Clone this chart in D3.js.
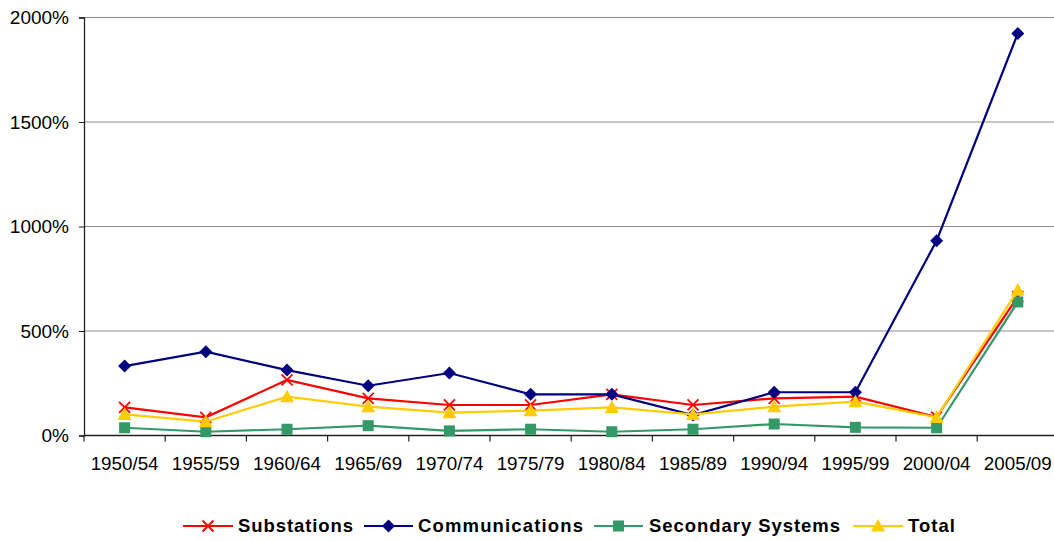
<!DOCTYPE html>
<html>
<head>
<meta charset="utf-8">
<script src="https://cdn.jsdelivr.net/npm/d3@7"></script>
<style>
  html, body { margin: 0; padding: 0; background: #fff; }
  svg { display: block; font-family: "Liberation Sans", Arial, sans-serif; }
</style>
</head>
<body>
<svg id="chart" width="1054" height="541"></svg>
<script>
// Five-year periods along the x axis
const categories = ["1950/54", "1955/59", "1960/64", "1965/69", "1970/74", "1975/79",
                    "1980/84", "1985/89", "1990/94", "1995/99", "2000/04", "2005/09"];

// Percentage values per series
const substations    = [135, 87, 266, 178, 146, 146, 197, 146, 178, 186, 88, 664];
const communications = [332, 401, 313, 238, 299, 197, 197, 98, 207, 207, 932, 1924];
const secondary      = [37, 18, 30, 47, 22, 30, 18, 30, 55, 39, 37, 639];
const total          = [101, 66, 186, 138, 109, 119, 135, 101, 138, 162, 87, 696];

const yTicks = [0, 500, 1000, 1500, 2000];

const series = [
  { name: "Substations",       values: substations,    color: "#FF0000", marker: "x" },
  { name: "Communications",    values: communications, color: "#000080", marker: "diamond" },
  { name: "Secondary Systems", values: secondary,      color: "#339966", marker: "square" },
  { name: "Total",             values: total,          color: "#FFCC00", marker: "triangle" }
];

const svg = d3.select("#chart");
const plotLeft = 84, plotRight = 1058.4, plotTop = 17.5, plotBottom = 435.5;

const x = d3.scaleBand().domain(categories).range([plotLeft, plotRight]).padding(0);
const y = d3.scaleLinear().domain([0, 2000]).range([plotBottom, plotTop]);
const cx = c => x(c) + x.bandwidth() / 2;

// Horizontal gridlines
svg.append("g")
  .selectAll("line")
  .data(yTicks.filter(t => t > 0))
  .join("line")
  .attr("x1", plotLeft).attr("x2", 1054)
  .attr("y1", d => y(d)).attr("y2", d => y(d))
  .attr("stroke", "#8c8c8c").attr("stroke-width", 1.2);

// Y axis
const yAxis = svg.append("g")
  .attr("transform", `translate(${plotLeft},0)`)
  .call(d3.axisLeft(y).tickValues(yTicks).tickSize(5).tickPadding(10).tickFormat(d => d + "%"));
yAxis.select(".domain").attr("stroke", "#222").attr("stroke-width", 1.3);
yAxis.selectAll(".tick line").attr("stroke", "#222");
yAxis.selectAll("text").attr("font-size", "19px").attr("fill", "#000")
  .attr("font-family", "'Liberation Sans', Arial, sans-serif");

// X axis: labels centred in each band, ticks on band boundaries
const xAxis = svg.append("g")
  .attr("transform", `translate(0,${plotBottom})`)
  .call(d3.axisBottom(x).tickSize(0).tickPadding(21));
xAxis.select(".domain").remove();
xAxis.selectAll("text").attr("font-size", "18.8px").attr("fill", "#000")
  .attr("font-family", "'Liberation Sans', Arial, sans-serif");
svg.append("line")
  .attr("x1", plotLeft).attr("x2", 1054).attr("y1", plotBottom).attr("y2", plotBottom)
  .attr("stroke", "#222").attr("stroke-width", 1.3);
svg.append("g")
  .selectAll("line")
  .data(categories.concat([null]))
  .join("line")
  .attr("x1", (d, i) => plotLeft + i * x.bandwidth())
  .attr("x2", (d, i) => plotLeft + i * x.bandwidth())
  .attr("y1", plotBottom).attr("y2", plotBottom + 6)
  .attr("stroke", "#222").attr("stroke-width", 1.2);

// Marker shapes
function drawMarker(g, type, color, px, py) {
  if (type === "x") {
    const s = 5.5;
    g.append("path")
      .attr("d", `M${px - s},${py - s}L${px + s},${py + s}M${px - s},${py + s}L${px + s},${py - s}`)
      .attr("stroke", color).attr("stroke-width", 1.8).attr("fill", "none");
  } else if (type === "diamond") {
    const s = 6.5;
    g.append("path")
      .attr("d", `M${px},${py - s}L${px + s},${py}L${px},${py + s}L${px - s},${py}Z`)
      .attr("fill", color);
  } else if (type === "square") {
    const s = 5.5;
    g.append("rect")
      .attr("x", px - s).attr("y", py - s).attr("width", 2 * s).attr("height", 2 * s)
      .attr("fill", color);
  } else if (type === "triangle") {
    const s = 7;
    g.append("path")
      .attr("d", `M${px},${py - s}L${px + s},${py + s * 0.8}L${px - s},${py + s * 0.8}Z`)
      .attr("fill", color);
  }
}

const line = d3.line().x((d, i) => cx(categories[i])).y(d => y(d));

series.forEach(s => {
  const g = svg.append("g");
  g.append("path")
    .datum(s.values)
    .attr("d", line)
    .attr("fill", "none")
    .attr("stroke", s.color)
    .attr("stroke-width", 2.2);
  s.values.forEach((v, i) => drawMarker(g, s.marker, s.color, cx(categories[i]), y(v)));
});

// Legend
const legendItems = [
  { x0: 183, x1: 233, tx: 238, tw: 115 },
  { x0: 364, x1: 413, tx: 418, tw: 165 },
  { x0: 594, x1: 643, tx: 649, tw: 191 },
  { x0: 853, x1: 903, tx: 908, tw: 47 }
];
const ly = 526;
series.forEach((s, i) => {
  const L = legendItems[i];
  const g = svg.append("g");
  g.append("line")
    .attr("x1", L.x0).attr("x2", L.x1).attr("y1", ly).attr("y2", ly)
    .attr("stroke", s.color).attr("stroke-width", 2.2);
  drawMarker(g, s.marker, s.color, (L.x0 + L.x1) / 2, ly);
  g.append("text")
    .attr("x", L.tx).attr("y", ly)
    .attr("dy", "0.35em")
    .attr("font-size", "18.5px").attr("font-weight", "bold")
    .attr("textLength", L.tw).attr("lengthAdjust", "spacing")
    .text(s.name);
});
</script>
</body>
</html>
